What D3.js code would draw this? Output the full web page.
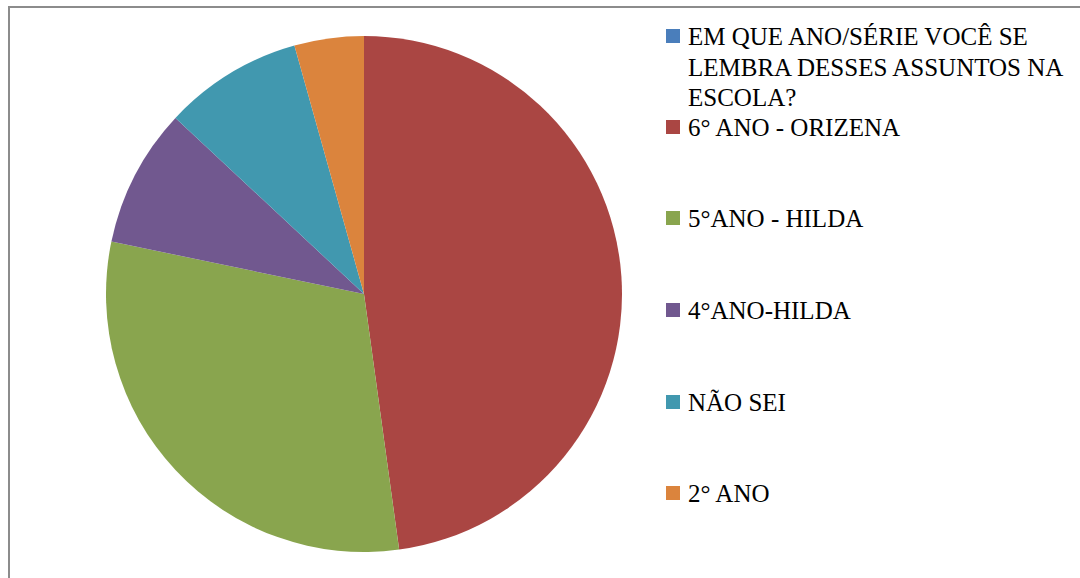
<!DOCTYPE html>
<html>
  <head>
    <meta charset="utf-8">
    <title>Pie chart</title>
    <style>
      html, body { margin: 0; padding: 0; background: #fff; }
      svg { display: block; }
    </style>
  </head>
  <body>
    <svg width="1080" height="578"></svg>
    <script src="https://d3js.org/d3.v7.min.js"></script>
    <script>
      // data
      var labels = [
        ['EM QUE ANO/SÉRIE VOCÊ SE', 'LEMBRA DESSES ASSUNTOS NA', 'ESCOLA?'],
        ['6° ANO - ORIZENA'],
        ['5°ANO - HILDA'],
        ['4°ANO-HILDA'],
        ['NÃO SEI'],
        ['2° ANO']
      ];
      var values = [0, 11, 7, 2, 2, 1];
      var colors = ['#4A7EBB', '#AA4643', '#89A54E', '#71588F', '#4198AF', '#DB843D'];

      var svg = d3.select('svg');

      // chart frame
      svg.append('rect')
        .attr('x', 9).attr('y', 7)
        .attr('width', 1100).attr('height', 600)
        .attr('fill', 'none')
        .attr('stroke', '#8c8c8c')
        .attr('stroke-width', 2);

      var cx = 364, cy = 294, r = 258;

      var pie = d3.pie().sort(null).value(function(d) { return d; });
      var arc = d3.arc().innerRadius(0).outerRadius(r);

      svg.append('g')
        .attr('transform', 'translate(' + cx + ',' + cy + ')')
        .selectAll('path')
        .data(pie(values))
        .enter()
        .append('path')
          .attr('d', arc)
          .attr('fill', function(d, i) { return colors[i]; });

      // legend
      var baselines = [45, 136, 227, 319, 411, 502];
      var lineGap = 30.5;

      var legend = svg.append('g')
        .style('font-family', '"Liberation Serif", "DejaVu Serif", serif')
        .style('font-size', '25px')
        .attr('fill', '#000');

      labels.forEach(function(lines, i) {
        legend.append('rect')
          .attr('x', 666).attr('y', baselines[i] - 16)
          .attr('width', 14).attr('height', 14)
          .attr('fill', colors[i]);
        var t = legend.append('text')
          .attr('x', 688).attr('y', baselines[i]);
        lines.forEach(function(s, j) {
          t.append('tspan')
            .attr('x', 688)
            .attr('y', baselines[i] + j * lineGap)
            .text(s);
        });
      });
    </script>
  </body>
</html>
